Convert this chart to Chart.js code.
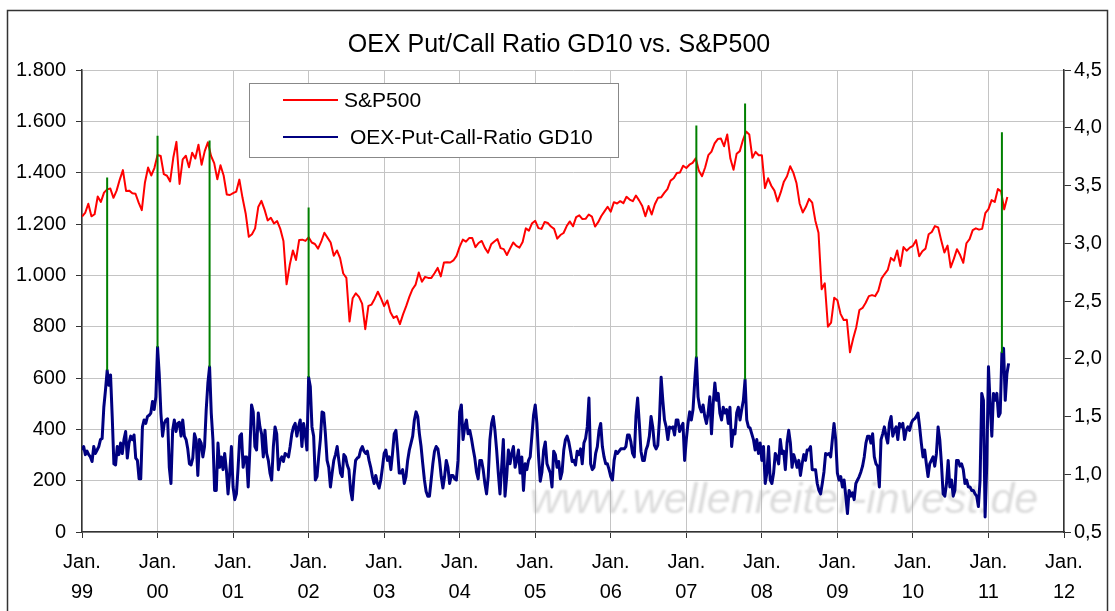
<!DOCTYPE html>
<html>
<head>
<meta charset="utf-8">
<script src="https://cdn.jsdelivr.net/npm/chart.js@4.4.0/dist/chart.umd.min.js"></script>
<style>
  html, body { margin: 0; padding: 0; background: #fff; }
  #wrap { position: relative; width: 1115px; height: 611px; }
</style>
</head>
<body>
<div id="wrap"><canvas id="chart"></canvas></div>
<script>
const FONT = '"Liberation Sans", Arial, sans-serif';

const yearTicks = [1999, 2000, 2001, 2002, 2003, 2004, 2005, 2006, 2007, 2008, 2009, 2010, 2011, 2012];

// S&P500, two readings per month (1st and 16th), Jan 1999 - Apr 2011
const spxStart = 1999;
const spxPerYear = 24;
const spx = [
  1229, 1243, 1279, 1230, 1238, 1307, 1286, 1322, 1335, 1338, 1302, 1330, 1373, 1410, 1329, 1330, 1320, 1318, 1283, 1254, 1362, 1420, 1389, 1418,
  1469, 1465, 1394, 1388, 1366, 1458, 1520, 1356, 1452, 1466, 1421, 1478, 1455, 1509, 1431, 1484, 1518, 1465, 1437, 1374, 1429, 1389, 1315, 1313,
  1320, 1326, 1373, 1302, 1241, 1150, 1160, 1183, 1266, 1290, 1256, 1214, 1224, 1202, 1211, 1181, 1134, 965, 1040, 1097, 1060, 1138, 1139, 1134,
  1148, 1128, 1122, 1104, 1131, 1166, 1147, 1128, 1076, 1097, 1067, 1007, 990, 820, 911, 930, 916, 890, 790, 881, 886, 909, 936, 910,
  880, 902, 856, 834, 841, 810, 848, 880, 916, 946, 964, 1011, 975, 994, 990, 990, 1008, 1029, 996, 1050, 1051, 1050, 1058, 1076,
  1112, 1139, 1131, 1145, 1145, 1110, 1126, 1134, 1107, 1088, 1121, 1132, 1141, 1106, 1102, 1079, 1104, 1128, 1115, 1108, 1130, 1183, 1174, 1203,
  1212, 1184, 1181, 1208, 1204, 1190, 1181, 1143, 1157, 1165, 1192, 1210, 1191, 1227, 1234, 1219, 1220, 1237, 1229, 1190, 1207, 1231, 1249, 1267,
  1248, 1285, 1280, 1289, 1281, 1306, 1295, 1289, 1311, 1292, 1270, 1230, 1270, 1237, 1277, 1302, 1304, 1321, 1336, 1369, 1378, 1399, 1401, 1427,
  1418, 1431, 1438, 1456, 1407, 1386, 1421, 1468, 1482, 1514, 1531, 1533, 1503, 1549, 1455, 1411, 1474, 1484, 1527, 1560, 1549, 1458, 1481, 1468,
  1468, 1340, 1378, 1349, 1330, 1288, 1323, 1365, 1386, 1425, 1400, 1360, 1280, 1245, 1267, 1298, 1283, 1213, 1166, 946, 969, 800, 816, 913,
  903, 850, 826, 827, 700, 753, 798, 865, 873, 893, 919, 923, 919, 940, 987, 1005, 1021, 1068, 1057, 1097, 1036, 1110, 1096, 1108,
  1115, 1137, 1074, 1094, 1104, 1160, 1169, 1192, 1187, 1136, 1089, 1116, 1031, 1064, 1102, 1079, 1049, 1125, 1141, 1176, 1183, 1178, 1181, 1242,
  1258, 1293, 1286, 1336, 1327, 1257, 1305
];

// OEX put/call ratio GD10, 45 readings per year (about every 8 days)
const pcStart = 1999;
const pcPerYear = 45;
const pcRatio = [
  // 1999
  1.21, 1.24, 1.17, 1.20, 1.17, 1.15, 1.11, 1.24, 1.18, 1.21, 1.24, 1.30, 1.31, 1.58, 1.73, 1.90, 1.77, 1.86, 1.50, 1.09, 1.08, 1.24, 1.17,
  1.27, 1.18, 1.30, 1.37, 1.14, 1.27, 1.33, 1.30, 1.34, 1.14, 1.12, 0.96, 0.96, 1.41, 1.47, 1.44, 1.50, 1.51, 1.53, 1.63, 1.56, 1.67,
  // 2000
  2.10, 1.87, 1.53, 1.33, 1.44, 1.47, 1.48, 1.06, 0.92, 1.38, 1.47, 1.37, 1.44, 1.45, 1.33, 1.47, 1.33, 1.30, 1.22, 1.09, 1.08, 1.14, 1.35,
  1.30, 0.99, 1.30, 1.27, 1.15, 1.24, 1.56, 1.79, 1.93, 1.53, 1.30, 0.86, 0.86, 1.27, 1.06, 1.15, 1.04, 1.18, 1.04, 0.83, 1.01, 1.24,
  // 2001
  0.89, 0.78, 0.83, 1.06, 1.33, 1.35, 1.06, 1.15, 1.15, 0.89, 1.21, 1.60, 1.54, 1.24, 1.21, 1.53, 1.41, 1.35, 1.15, 1.38, 1.18, 1.12, 1.01,
  0.95, 1.24, 1.41, 1.35, 1.04, 1.12, 1.15, 1.11, 1.18, 1.17, 1.15, 1.24, 1.35, 1.41, 1.44, 1.33, 1.41, 1.47, 1.24, 1.44, 1.35, 1.21,
  // 2002
  1.84, 1.76, 1.41, 1.33, 0.95, 0.98, 1.15, 1.30, 1.54, 1.53, 1.35, 1.12, 1.06, 0.89, 1.01, 1.12, 1.17, 1.24, 1.12, 1.01, 0.98, 1.17, 1.15,
  1.08, 1.04, 0.86, 0.78, 0.98, 1.12, 1.14, 1.15, 1.21, 1.24, 1.20, 1.18, 1.20, 1.12, 1.06, 0.98, 0.92, 0.99, 0.92, 0.88, 0.95, 1.06,
  // 2003
  1.18, 1.21, 1.12, 1.15, 1.04, 1.18, 1.35, 1.38, 1.21, 1.01, 1.01, 1.04, 0.92, 0.98, 1.12, 1.21, 1.27, 1.33, 1.47, 1.54, 1.50, 1.35, 1.24,
  1.09, 0.95, 0.85, 0.81, 0.81, 0.95, 1.09, 1.20, 1.24, 1.22, 1.12, 0.98, 0.88, 0.98, 1.12, 1.06, 0.92, 0.99, 0.99, 0.96, 0.95, 1.12,
  // 2004
  1.54, 1.60, 1.30, 1.41, 1.47, 1.35, 1.38, 1.31, 1.22, 1.14, 1.02, 0.96, 1.12, 1.12, 1.04, 0.92, 0.83, 0.98, 1.30, 1.44, 1.50, 1.38, 1.21,
  1.01, 0.83, 1.06, 1.30, 0.81, 0.98, 1.21, 1.09, 1.18, 1.24, 1.06, 1.12, 1.21, 1.01, 1.15, 0.86, 1.09, 1.04, 1.12, 1.15, 1.33, 1.51,
  // 2005
  1.60, 1.44, 1.15, 0.94, 1.02, 1.21, 1.28, 1.09, 1.05, 1.01, 0.89, 1.20, 1.17, 1.06, 1.11, 0.96, 1.02, 1.21, 1.30, 1.33, 1.28, 1.20, 1.11,
  1.12, 1.08, 1.20, 1.17, 1.22, 1.09, 1.27, 1.31, 1.41, 1.66, 1.09, 1.04, 1.06, 1.18, 1.24, 1.38, 1.44, 1.24, 1.15, 1.09, 1.09, 1.04,
  // 2006
  0.98, 0.95, 1.12, 1.20, 1.18, 1.20, 1.22, 1.22, 1.22, 1.24, 1.34, 1.34, 1.28, 1.18, 1.15, 1.50, 1.66, 1.44, 1.20, 1.12, 1.12, 1.21, 1.25,
  1.33, 1.50, 1.41, 1.25, 1.22, 1.25, 1.47, 1.84, 1.64, 1.47, 1.41, 1.30, 1.41, 1.40, 1.41, 1.34, 1.47, 1.47, 1.37, 1.41, 1.44, 1.12,
  // 2007
  1.30, 1.44, 1.54, 1.47, 1.56, 1.80, 2.01, 1.67, 1.58, 1.54, 1.60, 1.50, 1.44, 1.53, 1.67, 1.35, 1.61, 1.79, 1.64, 1.70, 1.53, 1.47, 1.58,
  1.53, 1.56, 1.44, 1.58, 1.24, 1.38, 1.35, 1.53, 1.58, 1.47, 1.56, 1.64, 1.82, 1.47, 1.41, 1.40, 1.35, 1.30, 1.21, 1.30, 1.18, 1.27,
  // 2008
  1.12, 1.24, 0.92, 1.01, 1.24, 0.95, 0.92, 1.01, 1.18, 1.15, 1.09, 1.30, 1.18, 1.20, 1.04, 1.27, 1.38, 1.27, 1.06, 1.17, 1.12, 1.06, 1.12,
  0.99, 1.09, 1.17, 1.12, 1.21, 1.21, 1.24, 1.04, 1.04, 1.04, 0.92, 0.86, 0.83, 0.92, 1.02, 1.18, 1.17, 1.18, 1.15, 1.30, 1.44, 1.30,
  // 2009
  1.01, 0.95, 0.98, 0.89, 0.95, 0.81, 0.66, 0.86, 0.81, 0.84, 0.78, 0.92, 0.95, 0.98, 1.02, 1.07, 1.15, 1.27, 1.33, 1.33, 1.27, 1.35, 1.15,
  1.09, 1.07, 0.89, 1.30, 1.35, 1.41, 1.33, 1.27, 1.44, 1.50, 1.33, 1.38, 1.41, 1.30, 1.44, 1.41, 1.44, 1.30, 1.38, 1.41, 1.38, 1.44,
  // 2010
  1.47, 1.48, 1.50, 1.53, 1.41, 1.27, 1.15, 1.21, 1.09, 0.98, 1.09, 1.12, 1.15, 1.07, 1.18, 1.41, 1.30, 1.09, 0.83, 0.81, 0.92, 1.12, 0.89,
  0.95, 0.81, 0.86, 1.12, 1.12, 1.07, 1.09, 1.04, 0.92, 0.95, 0.89, 0.89, 0.86, 0.86, 0.83, 0.81, 0.72, 0.95, 1.70, 1.64, 0.63, 1.09,
  // 2011
  1.93, 1.61, 1.33, 1.70, 1.64, 1.70, 1.50, 1.53, 2.05, 2.09, 1.64, 1.87, 1.96
];

// green markers: ratio spikes, drawn from the ratio peak upward
const spikeYears = [1999.333, 2000.0, 2000.689, 2002.0, 2007.133, 2007.778, 2011.178];
const spikeLow = [1.90, 2.10, 1.93, 1.84, 2.01, 1.82, 2.05];
const spikeHigh = [3.57, 3.93, 3.89, 3.31, 4.02, 4.21, 3.96];

const spxPoints = spx.map((v, i) => ({ x: spxStart + i / spxPerYear, y: v }));
const pcPoints = pcRatio.map((v, i) => ({ x: pcStart + i / pcPerYear, y: v }));
const spikePoints = [];
spikeYears.forEach((yr, i) => {
  spikePoints.push({ x: yr, y: spikeLow[i] }, { x: yr, y: spikeHigh[i] }, { x: yr, y: null });
});

function thousands(v) {
  if (v < 1000) return String(v);
  return Math.floor(v / 1000) + '.' + String(v % 1000).padStart(3, '0');
}

const decor = {
  id: 'decor',
  beforeDatasetsDraw(chart) {
    const ctx = chart.ctx;
    ctx.save();
    ctx.filter = 'blur(0.8px)';
    ctx.fillStyle = 'rgba(175,175,175,0.45)';
    ctx.font = 'italic 43px ' + FONT;
    ctx.textBaseline = 'alphabetic';
    ctx.textAlign = 'left';
    ctx.fillText('www.wellenreiter-invest.de', 530, 513);
    ctx.restore();
  },
  afterDatasetsDraw(chart) {
    const ctx = chart.ctx;
    const sets = chart.data.datasets;
    ctx.save();
    // legend box
    ctx.fillStyle = '#fff';
    ctx.fillRect(249, 83, 369, 74);
    ctx.strokeStyle = '#888';
    ctx.lineWidth = 1;
    ctx.strokeRect(249.5, 83.5, 369, 74);
    ctx.font = '21px ' + FONT;
    ctx.textBaseline = 'alphabetic';
    ctx.fillStyle = '#000';
    const rows = [[sets[2], 100, 344], [sets[1], 137, 350]];
    rows.forEach(([ds, y, tx]) => {
      ctx.strokeStyle = ds.borderColor;
      ctx.lineWidth = 2;
      ctx.beginPath();
      ctx.moveTo(283, y);
      ctx.lineTo(338, y);
      ctx.stroke();
      ctx.fillText(ds.label, tx, y + 7);
    });
    ctx.restore();
  },
  afterDraw(chart) {
    const ctx = chart.ctx;
    ctx.save();
    ctx.fillStyle = '#000';
    ctx.font = '25px ' + FONT;
    ctx.textAlign = 'center';
    ctx.textBaseline = 'alphabetic';
    ctx.fillText('OEX Put/Call Ratio GD10 vs. S&P500', 559, 52);
    ctx.strokeStyle = '#333';
    ctx.lineWidth = 1.5;
    ctx.strokeRect(7.5, 10.5, 1100, 620);
    ctx.restore();
  }
};

const tickFont = { family: FONT, size: 20, lineHeight: 1.5 };

new Chart(document.getElementById('chart'), {
  type: 'line',
  data: {
    datasets: [
      { label: 'Signal', data: spikePoints, yAxisID: 'y1', borderColor: '#008000', borderWidth: 2, spanGaps: false, order: 0 },
      { label: 'OEX-Put-Call-Ratio GD10', data: pcPoints, yAxisID: 'y1', borderColor: '#000080', borderWidth: 3, order: 1 },
      { label: 'S&P500', data: spxPoints, yAxisID: 'y', borderColor: '#ff0000', borderWidth: 2, order: 2 }
    ]
  },
  options: {
    responsive: true,
    maintainAspectRatio: false,
    animation: false,
    layout: { padding: { top: 70, left: 0, right: 0, bottom: 0 } },
    elements: { point: { radius: 0 }, line: { tension: 0, borderJoinStyle: 'round' } },
    plugins: { legend: { display: false }, title: { display: false }, tooltip: { enabled: false } },
    scales: {
      x: {
        type: 'linear',
        min: 1999,
        max: 2012,
        afterBuildTicks: s => { s.ticks = yearTicks.map(v => ({ value: v })); },
        afterFit: s => { s.height = 79; },
        grid: { color: '#c4c4c4', tickColor: '#333', tickLength: 6 },
        border: { color: '#333', width: 1.5 },
        ticks: {
          color: '#000',
          font: tickFont,
          padding: 9,
          maxRotation: 0,
          autoSkip: false,
          callback: v => ['Jan.', String(v % 100).padStart(2, '0')]
        }
      },
      y: {
        position: 'left',
        min: 0,
        max: 1800,
        afterFit: s => { s.width = 82; },
        grid: { color: '#c4c4c4', tickColor: '#333', tickLength: 6 },
        border: { color: '#333', width: 1.5 },
        ticks: { stepSize: 200, color: '#000', font: tickFont, padding: 10, callback: v => thousands(v) }
      },
      y1: {
        position: 'right',
        min: 0.5,
        max: 4.5,
        afterFit: s => { s.width = 51; },
        grid: { drawOnChartArea: false, tickColor: '#333', tickLength: 7 },
        border: { color: '#333', width: 1.5 },
        ticks: { stepSize: 0.5, color: '#000', font: tickFont, padding: 3, callback: v => v.toFixed(1).replace('.', ',') }
      }
    }
  },
  plugins: [decor]
});
</script>
</body>
</html>
